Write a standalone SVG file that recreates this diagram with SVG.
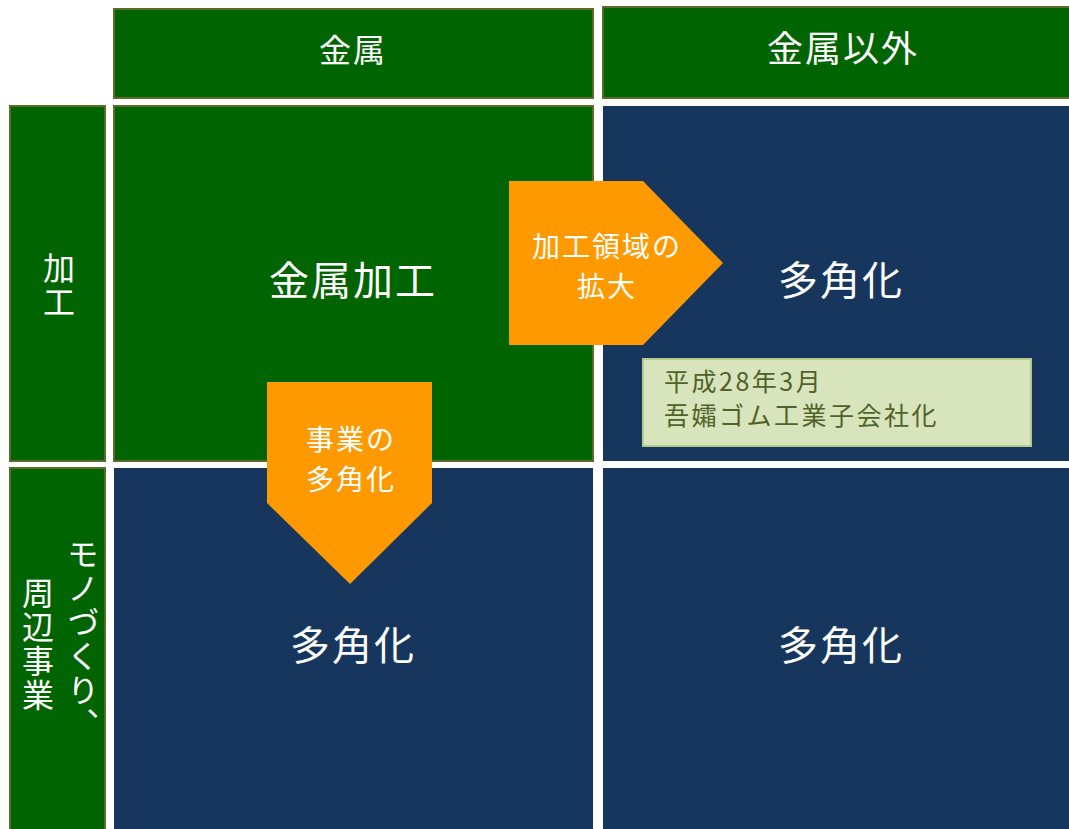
<svg xmlns="http://www.w3.org/2000/svg" width="1069" height="829" viewBox="0 0 1069 829">
<style>
.g{fill:#006400;stroke:#5a6b2a;stroke-width:2}
.n{fill:#17365d}
.o{fill:#ff9900}
.t{font-family:"Noto Sans CJK JP","Noto Sans CJK SC",sans-serif;fill:#ffffff;text-anchor:middle}
.v{writing-mode:vertical-rl;text-anchor:start}
.note{fill:#d7e4bc;stroke:#b4c98a;stroke-width:2}
.nt{font-family:"Noto Sans CJK JP",sans-serif;fill:#4f6228;font-size:25px;letter-spacing:2.5px}
</style>
<rect width="1069" height="829" fill="#ffffff"/>
<g id="header-kinzoku"><rect class="g" x="114" y="9" width="479" height="89"/><text class="t" x="353" y="62" font-size="32" letter-spacing="2">金属</text></g>
<g id="header-igai"><rect class="g" x="603" y="7" width="470" height="91"/><text class="t" x="843" y="62" font-size="36" letter-spacing="2">金属以外</text></g>
<g id="row-kakou"><rect class="g" x="10" y="106" width="95" height="355"/><text class="t v" x="59" y="252" font-size="32" letter-spacing="2">加工</text></g>
<g id="row-monozukuri"><rect class="g" x="10" y="468" width="95" height="365"/>
<text class="t v" x="83" y="538" font-size="32" letter-spacing="2">モノづくり、</text>
<text class="t v" x="38" y="577" font-size="32" letter-spacing="2">周辺事業</text></g>
<g id="cell-kinzokukakou"><rect class="g" x="114" y="106" width="479" height="355"/><text class="t" x="353" y="295" font-size="40" letter-spacing="2">金属加工</text></g>
<g id="cell-tr"><rect class="n" x="603" y="106" width="466" height="355"/><text class="t" x="841" y="295" font-size="40" letter-spacing="2">多角化</text></g>
<g id="cell-bl"><rect class="n" x="114" y="468" width="479" height="361"/><text class="t" x="353" y="660" font-size="40" letter-spacing="2">多角化</text></g>
<g id="cell-br"><rect class="n" x="603" y="468" width="466" height="361"/><text class="t" x="841" y="660" font-size="40" letter-spacing="2">多角化</text></g>
<g id="note"><rect class="note" x="643" y="359" width="388" height="87"/><text class="nt" x="664" y="391">平成28年3月</text><text class="nt" x="664" y="425">吾孀ゴム工業子会社化</text></g>
<g id="connectors">
<g id="arrow-right"><polygon class="o" points="509,181 643,181 723,263 643,345 509,345"/><text class="t" x="607" y="257" font-size="28" letter-spacing="2">加工領域の</text><text class="t" x="607" y="297" font-size="28" letter-spacing="2">拡大</text></g>
<g id="arrow-down"><polygon class="o" points="267,382 432,382 432,503 350,584 267,503"/><text class="t" x="351" y="450" font-size="28" letter-spacing="2">事業の</text><text class="t" x="351" y="490" font-size="28" letter-spacing="2">多角化</text></g>
</g>
</svg>
